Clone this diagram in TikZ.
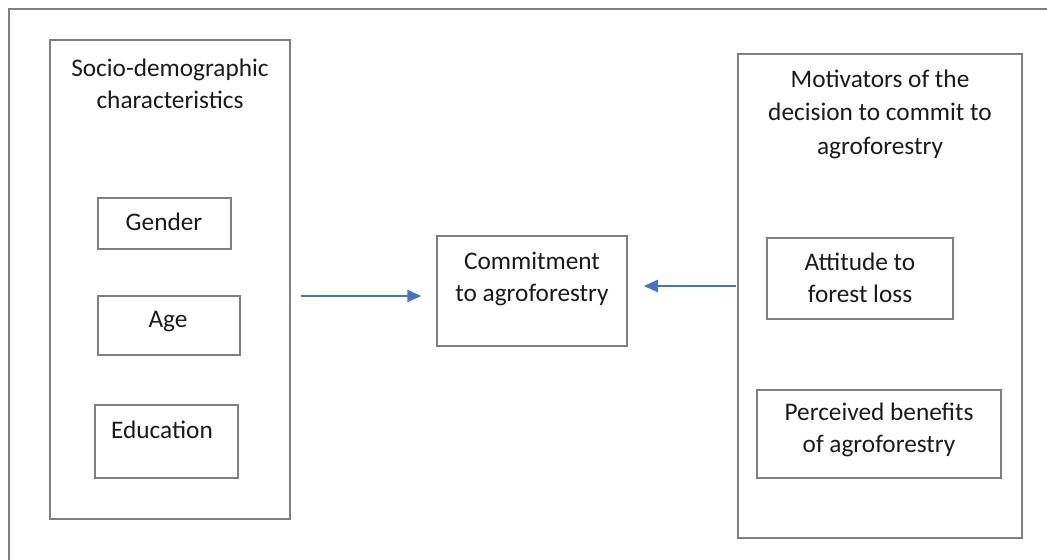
\documentclass[tikz,border=0pt]{standalone}
\usepackage{fontspec}
\setmainfont{Carlito}
\usetikzlibrary{arrows.meta, positioning}
\definecolor{frgrey}{HTML}{7F7F7F}
\definecolor{frblue}{HTML}{4472C4}
\definecolor{frtext}{HTML}{1A1A1A}

\begin{document}
\begin{tikzpicture}[
      x=0.5pt, y=-0.5pt,
      font=\fontsize{12.65}{16}\selectfont,
      text=frtext,
      box/.style={draw=frgrey, line width=0.75pt, inner sep=0pt},
      txt/.style={align=center, inner sep=0pt},
      ar/.style={-{Triangle[length=7pt,width=6pt]}, frblue, line width=1pt},
    ]
    \useasboundingbox (0,0) rectangle (1047,560);

    % ---------------- frame
    \draw[frgrey, line width=0.75pt] (9,560) -- (9,9) -- (1047,9);

    % ---------------- left: socio-demographic characteristics
    \node[box, minimum width=120pt, minimum height=239.5pt] (socio) at (170,279.5) {};
    \node[txt] (sociot) at (170,84) {Socio-demographic\\characteristics};
    \node[box, minimum width=66.5pt, minimum height=25.5pt] (gender) at (164.5,223.5) {};
    \node[txt] (gendert) at (164,222) {Gender};
    \node[box, minimum width=71pt, minimum height=29.5pt] (age) at (169,325.5) {};
    \node[txt] (aget) at (168,322) {Age};
    \node[box, minimum width=71.5pt, minimum height=36.5pt] (educ) at (166.5,441.5) {};
    \node[txt] (educt) at (162,430) {Education};

    % ---------------- centre: commitment
    \node[box, minimum width=95pt, minimum height=55pt] (commit) at (532,291) {};
    \node[txt] (committ) at (532,279) {Commitment\\to agroforestry};

    % ---------------- right: motivators
    \node[box, minimum width=142pt, minimum height=242pt] (motiv) at (880,296) {};
    \node[txt, font=\fontsize{12.65}{16.7}\selectfont] (motivt) at (880,114) {Motivators of the\\decision to commit to\\agroforestry};
    \node[box, minimum width=93pt, minimum height=40.5pt] (attit) at (860,278.5) {};
    \node[txt] (attitt) at (860,278) {Attitude to\\forest loss};
    \node[box, minimum width=122pt, minimum height=44pt] (benef) at (879,434) {};
    \node[txt] (beneft) at (879,430) {Perceived benefits\\of agroforestry};

    % ---------------- arrows
    \coordinate (yl) at (0,296);
    \coordinate (yr) at (0,286);
    \draw[ar] ([xshift=5pt]socio.east |- yl) -- ([xshift=-7.5pt]commit.west |- yl);
    \draw[ar] ([xshift=-0.5pt]motiv.west |- yr) -- ([xshift=8pt]commit.east |- yr);
  \end{tikzpicture}
\end{document}
